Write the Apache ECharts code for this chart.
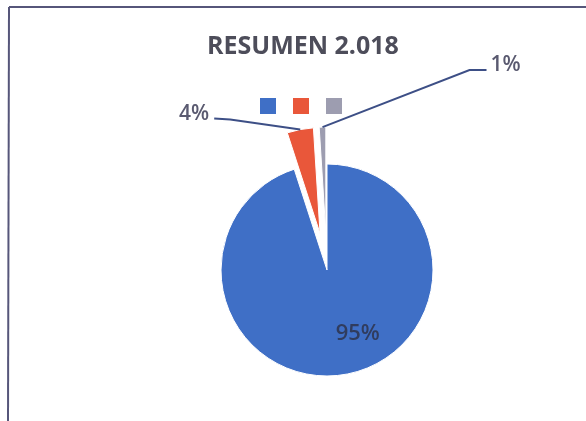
<!DOCTYPE html>
<html><head><meta charset="utf-8">
<script src="https://cdn.jsdelivr.net/npm/echarts@6/dist/echarts.min.js"></script>
<style>html,body{margin:0;padding:0;background:#fff}#c{width:586px;height:421px}</style>
</head><body><div id="c"></div>
<script>
const categories = ['A', 'B', 'C'];
const values = [95, 4, 1];
const colors = ['#3f6fc6', '#e9573a', '#9d9db0'];
const titleText = 'RESUMEN 2.018';

const SEL_OFFSET = 37;
const chart = echarts.init(document.getElementById('c'), null, {renderer: 'canvas'});
const total = values.reduce((a, b) => a + b, 0);
const data = categories.map((n, i) => ({
  name: n, value: values[i], selected: i > 0,
  itemStyle: {color: colors[i]},
  label: i === 0 ? {show: true, position: 'inside', offset: [22, 8]} : {show: false},
  labelLine: {show: false}
}));
chart.setOption({
  animation: false,
  title: {text: titleText, left: 202, top: 29,
    textStyle: {fontFamily: 'Open Sans', fontWeight: 'bold', fontSize: 25, color: '#4d4d5a'}},
  legend: {top: 93, left: 255, itemWidth: 16, itemHeight: 16, itemGap: 17,
    icon: 'rect', itemStyle: {borderWidth: 0}, formatter: () => '', data: categories},
  series: [{
    type: 'pie', center: [327, 270], radius: 106, startAngle: 90, clockwise: true,
    selectedMode: 'multiple', selectedOffset: SEL_OFFSET,
    label: {formatter: '{d}%', fontFamily: 'Open Sans', fontSize: 22, fontWeight: 600, color: '#303c5e'},
    itemStyle: {borderColor: '#fff', borderWidth: 1},
    data: data
  }]
});

// outside labels with leader lines, anchored on the library's sector layout
const sData = chart.getModel().getSeriesByIndex(0).getData();
// placement of each outside label relative to its sector's outer point: [elbowDx, elbowDy, endDx, endDy, side]
const labelPlacement = {1: [-70, -10, -86, -11, 'right'], 2: [147, -57, 164, -57, 'left']};
const graphics = [
  {type: 'line', shape: {x1: 9, y1: 7, x2: 586, y2: 7}, style: {stroke: '#56567a', lineWidth: 2}},
  {type: 'line', shape: {x1: 9, y1: 7, x2: 8, y2: 421}, style: {stroke: '#56567a', lineWidth: 2}}
];
Object.keys(labelPlacement).forEach(k => {
  const i = +k;
  const L = sData.getItemLayout(i);
  const mid = (L.startAngle + L.endAngle) / 2;
  const ox = L.cx + Math.cos(mid) * SEL_OFFSET, oy = L.cy + Math.sin(mid) * SEL_OFFSET;
  const px = ox + Math.cos(mid) * L.r, py = oy + Math.sin(mid) * L.r;
  const pl = labelPlacement[i];
  const ex = px + pl[2], ey = py + pl[3];
  graphics.push({type: 'polyline', z: 10,
    shape: {points: [[px, py], [px + pl[0], py + pl[1]], [ex, ey]]},
    style: {stroke: '#3d4f86', lineWidth: 2, fill: null}});
  const pct = Math.round(values[i] / total * 100) + '%';
  graphics.push({type: 'text', z: 10,
    x: pl[4] === 'right' ? ex - 5 : ex + 4, y: ey - 5,
    style: {text: pct, fontFamily: 'Open Sans', fontSize: 21, fontWeight: 600, fill: '#5a5a70',
      align: pl[4], verticalAlign: 'middle'}});
});
chart.setOption({graphic: graphics});
</script></body></html>
